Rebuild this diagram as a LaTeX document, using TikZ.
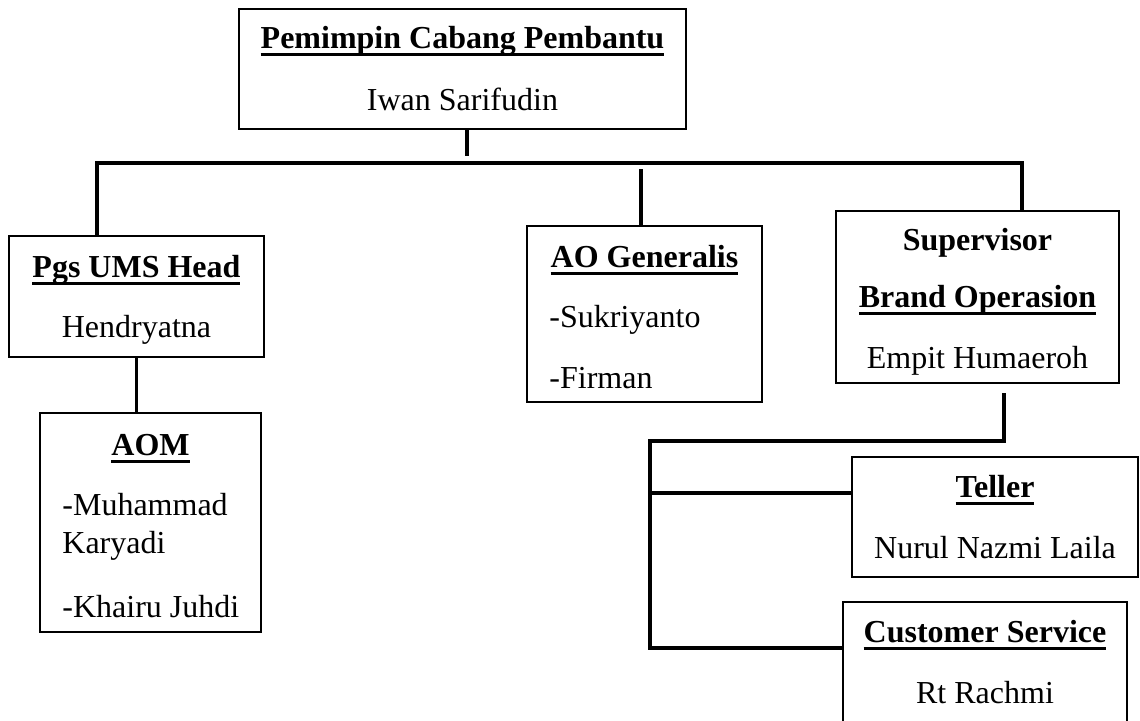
\documentclass[tikz,border=0pt]{standalone}
\usepackage{fontspec}
\setmainfont{Liberation Serif}
\usetikzlibrary{fit}
\newcommand{\myul}[1]{\setbox0\hbox{#1}\rlap{\rule[-3.9pt]{\wd0}{1.5pt}}\box0}
\begin{document}
\begin{tikzpicture}[x=0.5pt,y=-0.5pt,
  box/.style={draw, line width=1pt, inner sep=0pt},
  txt/.style={font=\fontsize{16}{19}\selectfont, inner sep=0pt, anchor=base},
  ltxt/.style={txt, anchor=base west},
  conn/.style={line width=1.6pt}]
\useasboundingbox (0,0) rectangle (1140,720);
\fill[white] (0,0) rectangle (1140,720);
% boxes
\node[box, fit={(239,9) (686,129)}] (top) {};
\node[txt] (topT) at (462.5,48) {\bfseries\myul{Pemimpin Cabang Pembantu}};
\node[txt] (topN) at (462.5,110) {Iwan Sarifudin};

\node[box, fit={(9,236) (264,357)}] (pgs) {};
\node[txt] (pgsT) at (136.5,277) {\bfseries\myul{Pgs UMS Head}};
\node[txt] (pgsN) at (136.5,337) {Hendryatna};

\node[box, fit={(527,226) (762,402)}] (ao) {};
\node[txt] (aoT) at (644.5,267) {\bfseries\myul{AO Generalis}};
\node[ltxt] (aoN1) at (549,327) {-Sukriyanto};
\node[ltxt] (aoN2) at (549,388) {-Firman};

\node[box, fit={(836,211) (1119,383)}] (sup) {};
\node[txt] (supT1) at (977.5,250) {\bfseries Supervisor};
\node[txt] (supT2) at (977.5,307) {\bfseries\myul{Brand Operasion}};
\node[txt] (supN) at (977.5,368) {Empit Humaeroh};

\node[box, fit={(40,413) (261,632)}] (aom) {};
\node[txt] (aomT) at (150.5,455) {\bfseries\myul{AOM}};
\node[ltxt] (aomN1) at (62,515) {-Muhammad};
\node[ltxt] (aomN1b) at (62,553) {Karyadi};
\node[ltxt] (aomN2) at (62,617) {-Khairu Juhdi};

\node[box, fit={(852,457) (1138,577)}] (teller) {};
\node[txt] (tellerT) at (995,497) {\bfseries\myul{Teller}};
\node[txt] (tellerN) at (995,558) {Nurul Nazmi Laila};

\node[box, fit={(843,602) (1127,745)}] (cs) {};
\node[txt] (csT) at (985,642) {\bfseries\myul{Customer Service}};
\node[txt] (csN) at (985,703) {Rt Rachmi};

% connectors
\coordinate (j0) at (467,156);
\draw[conn] (top.south -| j0) -- (j0);
\coordinate (busL) at (97,163);
\coordinate (busR) at (1022,163);
\draw[conn] (pgs.north -| busL) -- (busL) -- (busR) -- (sup.north -| busR);
\coordinate (aoS) at (641,169);
\draw[conn] (aoS) -- (ao.north -| aoS);
\draw[conn] (pgs.south) -- (pgs.south |- aom.north);
\coordinate (s0) at (1004,393);
\coordinate (s1) at (1004,441);
\coordinate (s2) at (650,441);
\coordinate (s3) at (650,648);
\coordinate (s4) at (650,493);
\draw[conn] (s0) -- (s1) -- (s2) -- (s3) -- (cs.west |- s3);
\draw[conn] (s4) -- (teller.west |- s4);
\end{tikzpicture}
\end{document}
